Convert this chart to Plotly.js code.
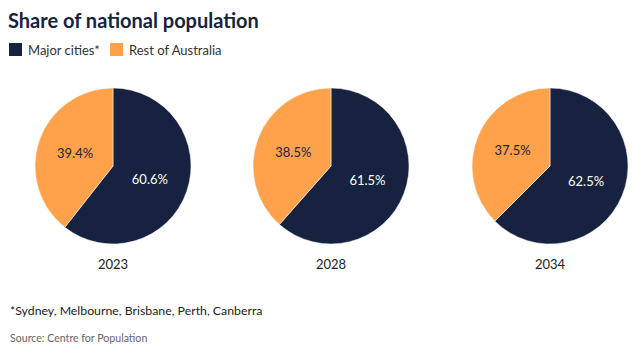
<!DOCTYPE html>
<html><head><meta charset="utf-8">
<script src="https://cdn.plot.ly/plotly-3.0.1.min.js"></script>
<style>html,body{margin:0;padding:0;background:#fff}#c{width:641px;height:349px}</style>
</head><body><div id="c"></div>
<script>
const categories = ["Major cities*", "Rest of Australia"];
const years = ["2023", "2028", "2034"];
const majorCities = [60.6, 61.5, 62.5];
const restOfAustralia = [39.4, 38.5, 37.5];
const colors = ["#172240", "#FFA24B"];

const W = 641, H = 349;
const FONT = "Lato, 'Noto Sans', sans-serif";
const centersX = [113, 331, 550];
const cy = 166, r = 78;

const data = years.map((yr, i) => ({
  type: "pie",
  labels: categories,
  values: [majorCities[i], restOfAustralia[i]],
  sort: false,
  direction: "clockwise",
  rotation: 0,
  marker: {colors: colors, line: {color: "#ffffff", width: 0.5}},
  texttemplate: "%{value:.1f}%",
  textposition: "inside",
  insidetextorientation: "horizontal",
  insidetextfont: {color: ["#ffffff", "#172240"], size: 13, family: FONT},
  hoverinfo: "label+value",
  showlegend: false,
  domain: {x: [(centersX[i] - r) / W, (centersX[i] + r) / W], y: [(H - cy - r) / H, (H - cy + r) / H]}
}));

const annotations = years.map((yr, i) => ({
  text: yr, x: centersX[i] / W, y: 1 - 264 / H, xref: "paper", yref: "paper",
  showarrow: false, font: {size: 13, color: "#222", family: FONT}, xanchor: "center", yanchor: "middle"
}));
annotations.push({
  text: "*Sydney, Melbourne, Brisbane, Perth, Canberra", x: 8 / W, y: 1 - 310 / H,
  xref: "paper", yref: "paper", showarrow: false, xanchor: "left", yanchor: "middle",
  font: {size: 12.3, color: "#222", family: FONT}
});
annotations.push({
  text: "Source: Centre for Population", x: 8 / W, y: 1 - 338 / H,
  xref: "paper", yref: "paper", showarrow: false, xanchor: "left", yanchor: "middle",
  font: {size: 10.6, color: "#666", family: FONT}
});

// legend built from categories/colors
const legendX = [9, 110];
const shapes = [];
categories.forEach((c, k) => {
  shapes.push({type: "rect", xref: "paper", yref: "paper",
    x0: legendX[k] / W, x1: (legendX[k] + 13) / W, y0: 1 - 56 / H, y1: 1 - 43 / H,
    fillcolor: colors[k], line: {width: 0}});
  annotations.push({text: c, x: (legendX[k] + 17) / W, y: 1 - 49.5 / H, xref: "paper", yref: "paper",
    showarrow: false, xanchor: "left", yanchor: "middle", font: {size: 13, color: "#333", family: FONT}});
});

const layout = {
  width: W, height: H,
  margin: {l: 0, r: 0, t: 0, b: 0},
  paper_bgcolor: "#fff",
  showlegend: false,
  title: {text: "<b>Share of national population</b>", x: 8 / W, xanchor: "left", y: 1 - 21 / H, yanchor: "middle",
    font: {size: 20, color: "#172240", family: FONT}},
  shapes: shapes,
  annotations: annotations
};
Plotly.newPlot("c", data, layout, {displayModeBar: false, staticPlot: true});
</script></body></html>
